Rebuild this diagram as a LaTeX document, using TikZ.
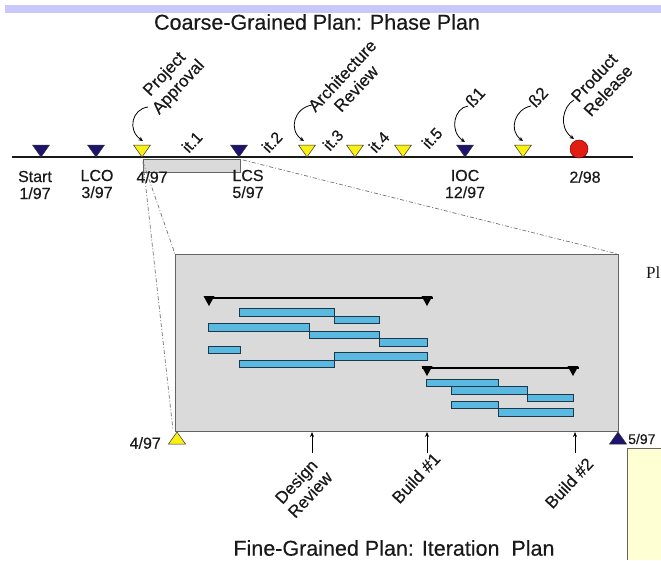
\documentclass[tikz,border=0pt]{standalone}
\usepackage{fontspec}
\setmainfont{Liberation Sans}[FakeBold=0.35]
\newfontfamily\plserif{Liberation Serif}
\usetikzlibrary{arrows.meta}
\definecolor{navy}{RGB}{30,20,110}
\definecolor{myyellow}{RGB}{250,240,20}
\definecolor{myred}{RGB}{225,30,20}
\definecolor{barblue}{RGB}{90,185,225}
\definecolor{bardark}{RGB}{30,55,75}
\definecolor{boxgray}{RGB}{218,218,218}
\definecolor{boxedge}{RGB}{100,100,100}
\definecolor{band}{RGB}{200,200,250}
\definecolor{pale}{RGB}{255,255,212}
\definecolor{ink}{RGB}{25,25,25}
\newcommand\mdown[3]{%
  \coordinate (#1) at (#2,157);
  \coordinate (#1-top) at (#2,145);
  \filldraw[fill=#3,draw=black!80,line width=0.5pt] (#2,157) -- (#2-8.5,145) -- (#2+8.5,145) -- cycle;}
\newcommand\mup[3]{%
  \coordinate (#1) at (#2,432);
  \filldraw[fill=#3,draw=black!80,line width=0.5pt] (#2,432) -- (#2-8.5,444) -- (#2+8.5,444) -- cycle;}
\begin{document}
\begin{tikzpicture}[x=1pt,y=-1pt,
  lbl/.style={font=\fontsize{16}{17}\selectfont, align=center, inner sep=0pt, text=ink},
  ann/.style={font=\fontsize{17}{19}\selectfont, align=center, rotate=47, inner sep=0pt, text=ink},
  itl/.style={font=\fontsize{16}{18}\selectfont, rotate=47, inner sep=0pt, text=ink},
  ttl/.style={font=\fontsize{21.5}{24}\selectfont, inner sep=0pt, text=ink},
  hook/.style={-{Stealth[length=4.5pt,width=4pt]}, line width=0.8pt, black},
  uparr/.style={-{Stealth[length=5pt,width=4pt]}, line width=0.9pt, black},
  dd/.style={black!55, dash pattern=on 4pt off 2pt on 1pt off 2pt, line width=0.7pt},
  bluebar/.style={fill=barblue, draw=bardark, line width=1pt},
  span/.style={line width=2.4pt, black},
  spantip/.style={fill=black},
]
\useasboundingbox (0,0) rectangle (661,560);
\fill[band] (5,5) rectangle (661,13);
\node[ttl] (title1) at (317,22) {Coarse-Grained Plan: Phase Plan};

% timeline
\coordinate (tl-l) at (12,157);
\coordinate (tl-r) at (633,157);
\draw[line width=2.2pt, ink] (tl-l) -- (tl-r);

% gray iteration box on timeline
\filldraw[fill=boxgray, draw=boxedge, line width=0.8pt] (143,159) rectangle (240,172);
\coordinate (gb-l) at (143,162);
\coordinate (gb-r) at (243,160);

\mdown{ms-start}{41}{navy}
\mdown{ms-lco}{96}{navy}
\mdown{ms-pa}{142}{myyellow}
\mdown{ms-lcs}{239}{navy}
\mdown{ms-ar}{307}{myyellow}
\mdown{ms-y3}{355}{myyellow}
\mdown{ms-y4}{403}{myyellow}
\mdown{ms-ioc}{465}{navy}
\mdown{ms-b2}{523}{myyellow}
\node[circle, fill=myred, draw=red!50!black, line width=0.5pt, minimum size=18pt, inner sep=0pt] (ms-pr) at (579,149) {};

% labels under timeline
\node[lbl] (l-start) at (35,185) {Start\\1/97};
\node[lbl] (l-lco) at (97,184) {LCO\\3/97};
\node[lbl] (l-pa) at (152,177) {4/97};
\node[lbl] (l-lcs) at (248,184) {LCS\\5/97};
\node[lbl] (l-ioc) at (465,184) {IOC\\12/97};
\node[lbl] (l-pr) at (585,177) {2/98};

% iteration labels
\node[itl] (it1) at (192,142) {it.1};
\node[itl] (it2) at (272,142) {it.2};
\node[itl] (it3) at (333,140) {it.3};
\node[itl] (it4) at (379,142) {it.4};
\node[itl] (it5) at (432,138) {it.5};

% annotations
\node[ann] (a-pa) at (172,81) {Project\\Approval};
\node[ann] (a-ar) at (349,82) {Architecture\\Review};
\node[ann] (a-b1) at (475,97) {ß1};
\node[ann] (a-b2) at (538,97) {ß2};
\node[ann] (a-pr) at (601,84) {Product\\Release};

\coordinate (h-pa-s) at (148,107);  \coordinate (h-pa-e) at (143,141);
\coordinate (h-ar-s) at (312,105);  \coordinate (h-ar-e) at (304,141);
\coordinate (h-b1-s) at (468,106);  \coordinate (h-b1-e) at (465,142);
\coordinate (h-b2-s) at (531,106);  \coordinate (h-b2-e) at (523,141);
\coordinate (h-pr-s) at (574,100);  \coordinate (h-pr-e) at (574,139);
\draw[hook] (h-pa-s) .. controls (132,109) and (127,130) .. (h-pa-e);
\draw[hook] (h-ar-s) .. controls (294,108) and (288,130) .. (h-ar-e);
\draw[hook] (h-b1-s) .. controls (454,108) and (449,131) .. (h-b1-e);
\draw[hook] (h-b2-s) .. controls (515,109) and (508,130) .. (h-b2-e);
\draw[hook] (h-pr-s) .. controls (563,106) and (558,127) .. (h-pr-e);

% big iteration box
\filldraw[fill=boxgray, draw=boxedge, line width=0.9pt] (175,254) rectangle (618,431);
\coordinate (bb-tl) at (175,254);
\coordinate (bb-tr) at (618,254);
\coordinate (bb-bl) at (173,430);

\draw[dd] (gb-l) -- (bb-tl);
\draw[dd] (gb-l) -- (bb-bl);
\draw[dd] (gb-r) -- (bb-tr);

% spans
\coordinate (sp1-l) at (205,298); \coordinate (sp1-r) at (433,298);
\draw[span] (sp1-l) -- (sp1-r);
\fill[spantip] (209,306) -- (203.5,296) -- (214.5,296) -- cycle;
\fill[spantip] (427,306) -- (421.5,296) -- (432.5,296) -- cycle;
\coordinate (sp2-l) at (422,368); \coordinate (sp2-r) at (579,368);
\draw[span] (sp2-l) -- (sp2-r);
\fill[spantip] (427,376) -- (421.5,366) -- (432.5,366) -- cycle;
\fill[spantip] (573,376) -- (567.5,366) -- (578.5,366) -- cycle;

% blue bars set 1
\draw[bluebar] (239,308) rectangle (334,316);
\draw[bluebar] (334,316) rectangle (379,323);
\draw[bluebar] (208,323) rectangle (309,331);
\draw[bluebar] (309,331) rectangle (379,338);
\draw[bluebar] (379,338) rectangle (427,346);
\draw[bluebar] (208,346) rectangle (240,353);
\draw[bluebar] (334,352) rectangle (427,360);
\draw[bluebar] (239,360) rectangle (334,367);
% blue bars set 2
\draw[bluebar] (426,379) rectangle (498,386);
\draw[bluebar] (451,386) rectangle (527,394);
\draw[bluebar] (527,394) rectangle (573,401.5);
\draw[bluebar] (451,401) rectangle (498,408);
\draw[bluebar] (498,408) rectangle (573,416);

% bottom milestones
\mup{ms-bl}{177}{myyellow}
\mup{ms-br}{618}{navy}
\node[lbl, anchor=east] (l-b1) at (161,443) {4/97};
\node[lbl, anchor=west, font=\fontsize{14}{16}\selectfont] (l-b2) at (628,439) {5/97};

\coordinate (dr-s) at (312,453); \coordinate (dr-e) at (312,432);
\coordinate (b1-s) at (427,453); \coordinate (b1-e) at (427,432);
\coordinate (b2-s) at (575,453); \coordinate (b2-e) at (575,432);
\draw[uparr] (dr-s) -- (dr-e);
\draw[uparr] (b1-s) -- (b1-e);
\draw[uparr] (b2-s) -- (b2-e);
\node[ann] (a-dr) at (303,488) {Design\\Review};
\node[ann] (a-bd1) at (416,478) {Build \#1};
\node[ann] (a-bd2) at (569,483) {Build \#2};

\node[ttl] (title2) at (394,548) {Fine-Grained Plan: Iteration\ \ Plan};

% right side fragments
\fill[pale] (627,448) rectangle (661,560);
\draw[boxedge, line width=0.8pt] (627,560) -- (627,448) -- (661,448);
\node[font=\plserif\fontsize{17}{19}\selectfont, anchor=west, inner sep=0pt, text=ink] (pl) at (646,273) {Pl};
\end{tikzpicture}
\end{document}
